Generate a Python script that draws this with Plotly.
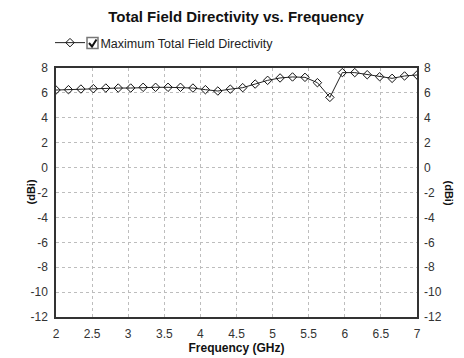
import numpy as np
import plotly.graph_objects as go

freq = list(np.linspace(2, 7, 30))
directivity = [6.23, 6.26, 6.31, 6.34, 6.39, 6.39, 6.39, 6.45, 6.45, 6.45,
               6.45, 6.39, 6.26, 6.15, 6.30, 6.42, 6.71, 7.01, 7.20, 7.28,
               7.25, 6.82, 5.64, 7.63, 7.63, 7.46, 7.30, 7.17, 7.36, 7.44]
y_ticks = list(range(-12, 10, 2))
y_ticklabels = [str(v) for v in y_ticks]
x_ticks = [2, 2.5, 3, 3.5, 4, 4.5, 5, 5.5, 6, 6.5, 7]
x_ticklabels = ["2", "2.5", "3", "3.5", "4", "4.5", "5", "5.5", "6", "6.5", "7"]

OFF = 8  # browser body margin
W, H = 464 - OFF, 358 - OFF
L, R, T, B = 56 - OFF, 47, 68 - OFF, 41
pw, ph = W - L - R, H - T - B

def px(xp):
    return (xp - OFF - L) / pw

def py(yp):
    return (H - B - (yp - OFF)) / ph

font = dict(family="Arial, Liberation Sans, sans-serif", size=12, color="#333")

fig = go.Figure()
fig.add_trace(go.Scatter(
    x=freq, y=directivity, mode="lines+markers",
    name="   Maximum Total Field Directivity",
    line=dict(color="#222", width=1),
    marker=dict(symbol="diamond-open", size=6.5, color="#111", line=dict(width=1)),
))
fig.add_trace(go.Scatter(x=[None], y=[None], yaxis="y2", showlegend=False))

grid = dict(showgrid=True, gridcolor="#bdbdbd", griddash="3px,3px", gridwidth=1)
fig.update_layout(
    width=W, height=H,
    margin=dict(l=L, r=R, t=T, b=B, autoexpand=False),
    paper_bgcolor="white", plot_bgcolor="white",
    font=font,
    title=dict(text="<b>Total Field Directivity vs. Frequency</b>",
               x=(236 - OFF) / W, xanchor="center", y=1 - (17 - OFF) / H, yanchor="middle",
               font=dict(family="Arial, Liberation Sans, sans-serif", size=15, color="#111")),
    showlegend=True,
    legend=dict(x=px(50), y=py(43), xanchor="left", yanchor="middle",
                font=dict(size=12.5, color="#222"), bgcolor="rgba(0,0,0,0)",
                itemwidth=30),
    xaxis=dict(range=[2, 7], tickvals=x_ticks, ticktext=x_ticklabels,
               showline=True, linecolor="#333", linewidth=1.5, mirror=True,
               ticks="", zeroline=False, tickfont=font, automargin=False,
               ticklabelstandoff=5, **grid,
               title=dict(text="<b>Frequency (GHz)</b>", standoff=2,
                          font=dict(size=12, color="#111"))),
    yaxis=dict(range=[-12, 8], tickvals=y_ticks, ticktext=y_ticklabels,
               showline=True, linecolor="#333", linewidth=1.5, mirror=True,
               ticks="", zeroline=False, tickfont=font, ticklabelstandoff=4,
               automargin=False, **grid),
    yaxis2=dict(range=[-12, 8], tickvals=y_ticks, ticktext=y_ticklabels,
                overlaying="y", side="right",
                showgrid=False, zeroline=False, ticks="", tickfont=font,
                ticklabelstandoff=6, automargin=False),
)

# y-axis titles
fig.add_annotation(text="<b>(dBi)</b>", x=px(22), y=0.5, xref="paper", yref="paper",
                   textangle=-90, showarrow=False, font=dict(size=11, color="#111"))
fig.add_annotation(text="<b>(dBi)</b>", x=px(457), y=0.5, xref="paper", yref="paper",
                   textangle=90, showarrow=False, font=dict(size=11, color="#111"))

# legend checkbox
fig.add_shape(type="rect", xref="paper", yref="paper",
              x0=px(87), x1=px(98), y0=py(48.5), y1=py(37.5),
              line=dict(color="#777", width=1.5), fillcolor="white")
fig.add_shape(type="path", xref="paper", yref="paper",
              path=f"M {px(89)} {py(43)} L {px(92)} {py(46.5)} L {px(96.5)} {py(39.5)}",
              line=dict(color="#111", width=2))

fig.write_html("out.html")
